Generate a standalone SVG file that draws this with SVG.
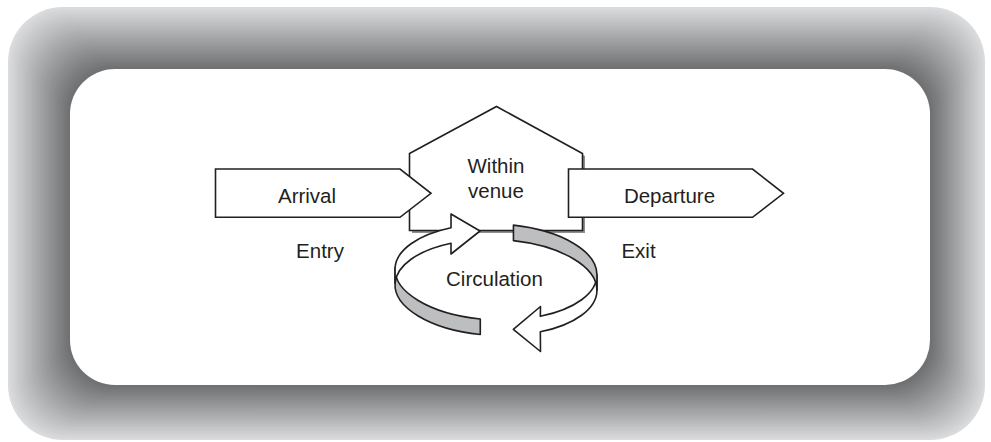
<svg xmlns="http://www.w3.org/2000/svg" width="991" height="442" viewBox="0 0 991 442">
<style>
.ln{fill:#fff;stroke:#231f20;stroke-width:1.6;stroke-linejoin:miter}
.rib{stroke:#231f20;stroke-width:1.6;stroke-linejoin:round}
.w{fill:#fff}
.g{fill:#bcbec0}
.sh{fill:#8e8f91}
text{font-family:"Liberation Sans",Arial,Helvetica,sans-serif;font-size:20.5px;fill:#231f20;text-anchor:middle}
</style>
<rect width="991" height="442" fill="#fff"/>
<!-- shaded bevel frame: nested rounded rectangles, lighter outside, darker inside -->
<g id="frame">
<rect x="8" y="7" width="977" height="433" rx="55" fill="rgb(218,219,221)"/>
<rect x="10" y="9" width="973.2" height="429.2" rx="54.7" fill="rgb(214,215,217)"/>
<rect x="12" y="11" width="969.5" height="425.5" rx="54.4" fill="rgb(211,212,214)"/>
<rect x="14" y="13" width="965.7" height="421.7" rx="54" fill="rgb(207,208,210)"/>
<rect x="16" y="15" width="961.9" height="417.9" rx="53.7" fill="rgb(204,205,207)"/>
<rect x="18" y="17" width="958.1" height="414.1" rx="53.4" fill="rgb(200,201,203)"/>
<rect x="20" y="19" width="954.4" height="410.4" rx="53.1" fill="rgb(197,198,200)"/>
<rect x="22" y="21" width="950.6" height="406.6" rx="52.8" fill="rgb(193,194,196)"/>
<rect x="24" y="23" width="946.8" height="402.8" rx="52.4" fill="rgb(190,191,193)"/>
<rect x="26" y="25" width="943" height="399" rx="52.1" fill="rgb(186,187,189)"/>
<rect x="28" y="27" width="939.3" height="395.3" rx="51.8" fill="rgb(183,184,186)"/>
<rect x="30" y="29" width="935.5" height="391.5" rx="51.5" fill="rgb(179,180,182)"/>
<rect x="32" y="31" width="931.7" height="387.7" rx="51.2" fill="rgb(175,176,178)"/>
<rect x="34" y="33" width="927.9" height="383.9" rx="50.8" fill="rgb(172,173,175)"/>
<rect x="36" y="35" width="924.2" height="380.2" rx="50.5" fill="rgb(168,169,171)"/>
<rect x="38" y="37" width="920.4" height="376.4" rx="50.2" fill="rgb(165,166,168)"/>
<rect x="40" y="39" width="916.6" height="372.6" rx="49.9" fill="rgb(161,162,164)"/>
<rect x="42" y="41" width="912.8" height="368.8" rx="49.6" fill="rgb(158,159,161)"/>
<rect x="44" y="43" width="909.1" height="365.1" rx="49.2" fill="rgb(154,155,157)"/>
<rect x="46" y="45" width="905.3" height="361.3" rx="48.9" fill="rgb(151,152,154)"/>
<rect x="48" y="47" width="901.5" height="357.5" rx="48.6" fill="rgb(147,148,150)"/>
<rect x="50" y="49" width="897.7" height="353.7" rx="48.3" fill="rgb(143,144,146)"/>
<rect x="52" y="51" width="894" height="350" rx="48" fill="rgb(140,141,143)"/>
<rect x="54" y="53" width="890.2" height="346.2" rx="47.6" fill="rgb(136,137,139)"/>
<rect x="56" y="55" width="886.4" height="342.4" rx="47.3" fill="rgb(133,134,136)"/>
<rect x="58" y="57" width="882.7" height="338.7" rx="47" fill="rgb(129,130,132)"/>
<rect x="60" y="59" width="878.9" height="334.9" rx="46.7" fill="rgb(126,127,129)"/>
<rect x="62" y="61" width="875.1" height="331.1" rx="46.4" fill="rgb(122,123,125)"/>
<rect x="64" y="63" width="871.3" height="327.3" rx="46" fill="rgb(119,120,122)"/>
<rect x="66" y="65" width="867.6" height="323.6" rx="45.7" fill="rgb(115,116,118)"/>
<rect x="68" y="67" width="863.8" height="319.8" rx="45.4" fill="rgb(112,113,115)"/>
<rect x="70" y="69" width="860" height="316" rx="45" fill="#fff"/>
</g>

<!-- house-shaped venue block with drop shadow -->
<g id="within-venue">
<polygon class="sh" points="412,156 499,109 585,156 585,233 412,233"/>
<polygon class="ln" points="409.5,153.5 496.5,106.5 582.5,153.5 582.5,230.5 409.5,230.5"/>
<text x="496" y="173">Within</text>
<text x="496" y="198">venue</text>
</g>

<g id="arrival">
<polygon class="ln" points="215.5,169 400,169 431,193.3 400,217.3 215.5,217.3"/>
<text x="307" y="202.5">Arrival</text>
</g>

<g id="departure">
<polygon class="ln" points="568.5,169 752.5,169 783.5,193.3 752.5,217.3 568.5,217.3"/>
<text x="669.5" y="203">Departure</text>
</g>

<g id="entry"><text x="320" y="258">Entry</text></g>
<g id="exit"><text x="638.5" y="257.5">Exit</text></g>

<!-- circulation loop: two curved ribbon arrows around an inclined ellipse -->
<g id="connectors">
<path class="rib g" d="M395.07,267.68 A101,48 2 0 0 480.29,319.01 L480.29,334.51 A101,48 2 0 1 395.07,283.18 Z"/>
<path class="rib w" d="M596.95,274.73 A101,48 2 0 1 540.33,316.34 L540.5,306.5 L513.3,329.3 L540.5,351.5 L540.33,331.84 A101,48 2 0 0 596.95,290.23 Z"/>
<path class="rib w" d="M395.07,267.68 A101,48 2 0 1 451.03,227.79 L451,214 L480,231 L451,254 L451.03,243.29 A101,48 2 0 0 395.07,283.18 Z"/>
<path class="rib g" d="M513.44,225.17 A101,48 2 0 1 596.95,274.73 L596.95,290.23 A101,48 2 0 0 513.44,240.67 Z"/>
</g>

<g id="circulation"><text x="494.5" y="286">Circulation</text></g>
</svg>
